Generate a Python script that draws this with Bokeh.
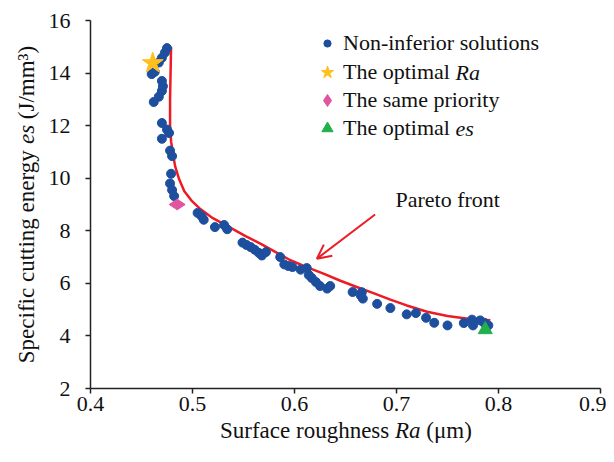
from bokeh.plotting import figure
from bokeh.models import (FixedTicker, Label, Arrow, OpenHead, Legend, LegendItem,
                          LinearAxis, Range1d)
from bokeh.embed import file_html
from bokeh.resources import INLINE
from math import pi

# Non-inferior solutions (Ra in um, es in J/mm^3)
ra = [0.475, 0.473, 0.470, 0.467, 0.463, 0.460, 0.470, 0.471, 0.470, 0.467, 0.462,
      0.470, 0.475, 0.477, 0.470, 0.478, 0.480, 0.479, 0.478, 0.480, 0.482,
      0.505, 0.509, 0.511, 0.522, 0.531, 0.534, 0.549, 0.553, 0.557, 0.561, 0.565,
      0.568, 0.572, 0.586, 0.590, 0.594, 0.598, 0.606, 0.612, 0.614, 0.617, 0.621,
      0.625, 0.632, 0.635, 0.657, 0.665, 0.666, 0.667, 0.681, 0.694, 0.710, 0.719,
      0.729, 0.737, 0.750, 0.766, 0.774, 0.775, 0.782, 0.786, 0.790]
es = [14.95, 14.78, 14.58, 14.40, 14.05, 13.96, 13.70, 13.50, 13.32, 13.10, 12.90,
      12.10, 11.85, 11.72, 11.50, 11.05, 10.84, 10.17, 9.80, 9.55, 9.32,
      8.68, 8.55, 8.42, 8.14, 8.22, 8.06, 7.55, 7.46, 7.38, 7.28, 7.16,
      7.06, 7.19, 7.00, 6.72, 6.66, 6.62, 6.52, 6.58, 6.32, 6.20, 6.05,
      5.90, 5.80, 5.90, 5.67, 5.54, 5.66, 5.42, 5.22, 5.06, 4.82, 4.87,
      4.69, 4.50, 4.40, 4.49, 4.62, 4.40, 4.59, 4.50, 4.40]

opt_ra_x = [0.461]
opt_ra_y = [14.38]
same_x = [0.485]
same_y = [9.0]
opt_es_x = [0.787]
opt_es_y = [4.24]

front_x = [0.4790, 0.4785, 0.4780, 0.4780, 0.4790, 0.4810, 0.4830, 0.4870, 0.4920,
           0.4990, 0.5070, 0.5200, 0.5370, 0.5520, 0.5670, 0.5820, 0.5960, 0.6120,
           0.6290, 0.6450, 0.6610, 0.6780, 0.6940, 0.7100, 0.7300, 0.7500, 0.7700, 0.7920]
front_y = [14.98, 14.00, 13.00, 12.00, 11.40, 10.90, 10.45, 9.95, 9.50,
           9.15, 8.85, 8.48, 8.12, 7.80, 7.50, 7.18, 6.88, 6.62,
           6.36, 6.10, 5.86, 5.62, 5.38, 5.16, 4.92, 4.76, 4.65, 4.60]

x_ticks = [0.4, 0.5, 0.6, 0.7, 0.8, 0.9]
y_ticks = [2, 4, 6, 8, 10, 12, 14, 16]
x_lo, x_hi = 0.4, 0.9
y_lo, y_hi = 2, 16

FONT = "Liberation Serif"
BLUE = "#1d4f9e"
RED = "#ed1c24"
INK = "#111111"

# layout (pixels): canvas W x H, plot box left/right/top/bottom
W, H = 606, 454
L, R, T, B = 90, 600, 20, 388
kx = (R - L) / (x_hi - x_lo)
ky = (B - T) / (y_hi - y_lo)

p = figure(width=W, height=H,
           x_range=Range1d(x_lo - L / kx, x_lo + (W - L) / kx),
           y_range=Range1d(y_lo - (H - B) / ky, y_hi + T / ky),
           x_axis_location=None, y_axis_location=None,
           output_backend="svg", toolbar_location=None,
           min_border=0)
p.outline_line_color = None
p.grid.visible = False
p.background_fill_color = "white"

xaxis = LinearAxis(fixed_location=y_lo, bounds=(x_lo, x_hi), ticker=FixedTicker(ticks=x_ticks))
yaxis = LinearAxis(fixed_location=x_lo, bounds=(y_lo, y_hi), ticker=FixedTicker(ticks=y_ticks))
for ax in (xaxis, yaxis):
    ax.axis_line_color = "#222222"
    ax.axis_line_width = 1.5
    ax.major_tick_line_color = "#222222"
    ax.major_tick_line_width = 1.5
    ax.major_tick_in = 0
    ax.major_tick_out = 5
    ax.minor_tick_line_color = None
    ax.major_label_text_font = FONT
    ax.major_label_text_font_size = "22px"
    ax.major_label_text_color = INK
xaxis.major_label_standoff = 3
yaxis.major_label_standoff = 15
p.add_layout(xaxis, "below")
p.add_layout(yaxis, "left")

p.line(front_x, front_y, line_color=RED, line_width=2.5)
r_pts = p.scatter(ra, es, size=9, fill_color=BLUE, line_color=BLUE)
r_star = p.scatter(opt_ra_x, opt_ra_y, marker="star", size=22, fill_color="#ffc01e", line_color="#ffc01e")
r_dia = p.scatter(same_x, same_y, marker="diamond", angle=pi / 2, size=16, fill_color="#e0559f", line_color="#e0559f")
r_tri = p.scatter(opt_es_x, opt_es_y, marker="triangle", size=14, fill_color="#21b04b", line_color="#21b04b")

# legend: one entry per Legend so each symbol gets its own size
entries = [("Non-inferior solutions", r_pts, 18, 43),
           ("The optimal ", r_star, 32, 72),
           ("The same priority", r_dia, 30, 100),
           ("The optimal ", r_tri, 28, 128)]
glyph_cx, text_x = 327, 343
for label, rend, g, yc in entries:
    h = max(g, 25)
    leg = Legend(items=[LegendItem(label=label, renderers=[rend])],
                 location=(glyph_cx - g / 2, H - (yc + h / 2)),
                 padding=0, margin=0, spacing=0,
                 glyph_width=g, glyph_height=g, label_standoff=int(round(text_x - glyph_cx - g / 2)),
                 label_text_font=FONT, label_text_font_size="22px", label_text_color=INK,
                 border_line_alpha=0, background_fill_alpha=0)
    p.add_layout(leg, "center")

lab_kw = dict(x_units="screen", y_units="screen", text_font=FONT, text_color=INK,
              text_baseline="middle")
# italic parts of legend entries
p.add_layout(Label(x=455, y=H - 72, text="Ra", text_font_size="22px", text_font_style="italic", **lab_kw))
p.add_layout(Label(x=455, y=H - 128, text="es", text_font_size="22px", text_font_style="italic", **lab_kw))

FS = 23
SPACE = 0.25
# x axis title: (text, style, advance width in em incl. following space)
xl = [("Surface roughness", "normal", 7.609), ("Ra", "italic", 1.111 + SPACE), ("(\u03bcm)", "normal", 1.944)]
total = sum(w for _, _, w in xl) * FS
pos = (L + R) / 2 - total / 2
for txt, style, w in xl:
    p.add_layout(Label(x=pos, y=H - 430, text=txt, text_font_size=f"{FS}px", text_font_style=style, **lab_kw))
    pos += w * FS

# y axis title (rotated)
yl = [("Specific cutting energy", "normal", 9.526), ("es", "italic", 0.833 + SPACE), ("(J/mm\u00b3)", "normal", 3.189)]
total = sum(w for _, _, w in yl) * FS
pos = (H - (T + B) / 2) - total / 2
for txt, style, w in yl:
    p.add_layout(Label(x=26, y=pos, angle=pi / 2, text=txt, text_font_size=f"{FS}px", text_font_style=style, **lab_kw))
    pos += w * FS

# Pareto front annotation
p.add_layout(Label(x=0.699, y=9.19, text="Pareto front", text_font=FONT, text_font_size="22px",
                   text_color=INK, text_baseline="middle"))
p.add_layout(Arrow(x_start=0.679, y_start=8.62, x_end=0.622, y_end=6.94, line_color=RED, line_width=2,
                   end=OpenHead(size=14, line_color=RED, line_width=2)))

open("out.html", "w").write(file_html(p, INLINE))
